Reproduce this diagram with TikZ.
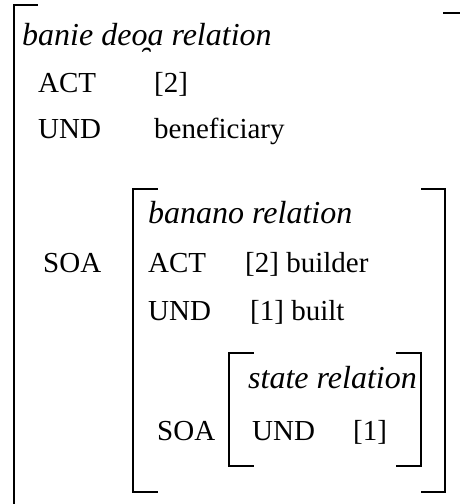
\documentclass[tikz,border=0pt]{standalone}
\usepackage{fontspec}
\setmainfont{Liberation Serif}
\begin{document}
\begin{tikzpicture}[x=1pt,y=-1pt,
  brk/.style={line width=2pt,line cap=rect},
  lbl/.style={anchor=base west,inner sep=0pt,font=\fontsize{29}{32}\selectfont},
  head/.style={anchor=base west,inner sep=0pt,font=\fontsize{32}{36}\selectfont\itshape}]
\useasboundingbox (0,0) rectangle (460,504);
% outer attribute-value matrix
\draw[brk] (37,5) -- (13.5,5) -- (13.5,510);
\draw[brk] (444,13) -- (462,13);
\node[head] (t1) at (22,45) {banie deo̯a relation};
\node[lbl] (a1) at (38,92) {ACT};
\node[lbl] (v1) at (154,92) {[2]};
\node[lbl] (u1) at (38,138) {UND};
\node[lbl] (w1) at (154,138) {beneficiary};
\node[lbl] (s1) at (43,272) {SOA};
% embedded matrix
\draw[brk] (157,189) -- (133,189) -- (133,492) -- (157,492);
\draw[brk] (422,189) -- (445,189) -- (445,492) -- (422,492);
\node[head] (t2) at (148,223) {banano relation};
\node[lbl] (a2) at (148,272) {ACT};
\node[lbl] (v2) at (245,272) {[2] builder};
\node[lbl] (u2) at (148,320) {UND};
\node[lbl] (w2) at (250,320) {[1] built};
\node[lbl] (s2) at (157,440) {SOA};
% innermost matrix
\draw[brk] (253,353) -- (229,353) -- (229,466) -- (253,466);
\draw[brk] (397,353) -- (421,353) -- (421,466) -- (397,466);
\node[head] (t3) at (248,388) {state relation};
\node[lbl] (u3) at (252,440) {UND};
\node[lbl] (v3) at (353,440) {[1]};
\end{tikzpicture}
\end{document}
